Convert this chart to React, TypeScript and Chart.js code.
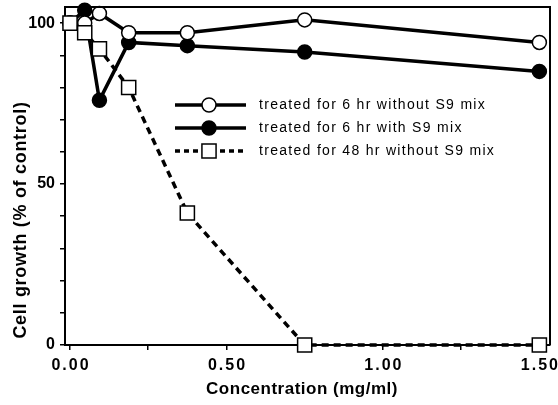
import React, { useEffect, useRef } from "react";
import { Chart, registerables } from "chart.js";
Chart.register(...registerables);

const concentrations = [0, 0.047, 0.094, 0.1875, 0.375, 0.75, 1.5];
const without6 = [100, 100, 103, 97, 97, 101, 94];
const with6 = [100, 104, 76, 94, 93, 91, 85];
const without48 = [100, 97, 92, 80, 41, 0, 0];
const seriesLabels = [
  "treated for 6 hr without S9 mix",
  "treated for 6 hr with S9 mix",
  "treated for 48 hr without S9 mix",
];
const xMajorTicks = [0, 0.5, 1, 1.5];
const xTickLabels = ["0.00", "0.50", "1.00", "1.50"];
const yMajorTicks = [0, 50, 100];
const yTickLabels = ["0", "50", "100"];
const xTitle = "Concentration (mg/ml)";
const yTitle = "Cell growth (% of control)";

const FONT = "'Liberation Sans', Arial, sans-serif";

const framePlugin = {
  id: "frame",
  afterDatasetsDraw(chart: any) {
    const { ctx, chartArea: a } = chart;
    ctx.save();
    ctx.strokeStyle = "#000";
    ctx.lineWidth = 2;
    ctx.beginPath();
    ctx.moveTo(a.left, a.top);
    ctx.lineTo(a.right, a.top);
    ctx.lineTo(a.right, a.bottom);
    ctx.stroke();
    ctx.restore();
  },
};

const xLabelsPlugin = {
  id: "xLabels",
  afterDraw(chart: any) {
    const { ctx } = chart;
    const sx = chart.scales.x;
    ctx.save();
    ctx.fillStyle = "#000";
    ctx.font = `bold 16px ${FONT}`;
    (ctx as any).letterSpacing = "2px";
    ctx.textAlign = "center";
    ctx.textBaseline = "middle";
    xMajorTicks.forEach((v, i) => {
      ctx.fillText(xTickLabels[i], sx.getPixelForValue(v) + 1, 366);
    });
    (ctx as any).letterSpacing = "0px";
    ctx.restore();
  },
};

const titlesPlugin = {
  id: "titles",
  afterDraw(chart: any) {
    const { ctx } = chart;
    ctx.save();
    ctx.fillStyle = "#000";
    ctx.textAlign = "center";
    ctx.textBaseline = "middle";
    ctx.font = `bold 17px ${FONT}`;
    (ctx as any).letterSpacing = "0.5px";
    ctx.fillText(xTitle, 302, 389);
    ctx.font = `bold 18px ${FONT}`;
    (ctx as any).letterSpacing = "0.7px";
    ctx.translate(21, 220);
    ctx.rotate(-Math.PI / 2);
    ctx.fillText(yTitle, 0, 0);
    (ctx as any).letterSpacing = "0px";
    ctx.restore();
  },
};

const legendPlugin = {
  id: "customLegend",
  afterDraw(chart: any) {
    const { ctx } = chart;
    const x0 = 175, x1 = 246, xm = 209, tx = 259;
    const rows = [105, 128, 151];
    ctx.save();
    chart.data.datasets.forEach((ds: any, i: number) => {
      const y = rows[i];
      ctx.strokeStyle = "#000";
      ctx.lineWidth = ds.borderWidth;
      ctx.setLineDash(ds.borderDash ? [5, 4] : []);
      ctx.beginPath();
      ctx.moveTo(x0, y);
      ctx.lineTo(x1, y);
      ctx.stroke();
      ctx.setLineDash([]);
      ctx.lineWidth = 1.5;
      ctx.fillStyle = ds.pointBackgroundColor;
      ctx.beginPath();
      if (ds.pointStyle === "rect") {
        const s = ds.pointRadius * Math.SQRT1_2;
        ctx.rect(xm - s, y - s, 2 * s, 2 * s);
      } else {
        ctx.arc(xm, y, ds.pointRadius, 0, Math.PI * 2);
      }
      ctx.fill();
      ctx.stroke();
      ctx.fillStyle = "#000";
      ctx.font = `14px ${FONT}`;
      (ctx as any).letterSpacing = "1.3px";
      ctx.textBaseline = "middle";
      ctx.textAlign = "left";
      ctx.fillText(seriesLabels[i], tx, y);
      (ctx as any).letterSpacing = "0px";
    });
    ctx.restore();
  },
};

export default function App() {
  const ref = useRef<HTMLCanvasElement>(null);
  useEffect(() => {
    document.body.style.margin = "0";
    const mk = (vals: number[]) => concentrations.map((x, i) => ({ x, y: vals[i] }));
    const common = {
      borderColor: "#000",
      borderWidth: 3.5,
      pointBorderColor: "#000",
      pointBorderWidth: 1.5,
      clip: false,
    };
    const chart = new Chart(ref.current!, {
      type: "line",
      data: {
        datasets: [
          { ...common, label: seriesLabels[0], data: mk(without6), pointStyle: "circle", pointRadius: 7, pointBackgroundColor: "#fff", order: 2 } as any,
          { ...common, label: seriesLabels[1], data: mk(with6), pointStyle: "circle", pointRadius: 7, pointBackgroundColor: "#000", order: 3 } as any,
          { ...common, label: seriesLabels[2], data: mk(without48), borderDash: [7, 5], pointStyle: "rect", pointRadius: 10, pointBackgroundColor: "#fff", order: 1 } as any,
        ],
      },
      options: {
        animation: false,
        responsive: false,
        events: [],
        layout: { autoPadding: false, padding: { top: 7, right: 8, left: 0, bottom: 0 } },
        plugins: { legend: { display: false }, tooltip: { enabled: false } },
        scales: {
          x: {
            type: "linear",
            min: -0.016,
            max: 1.534,
            afterFit: (s: any) => { s.height = 60; s.paddingLeft = 0; s.paddingRight = 0; },
            afterBuildTicks: (s: any) => {
              const t = [];
              for (let v = 0; v <= 1.5001; v += 0.25) t.push({ value: v });
              s.ticks = t;
            },
            ticks: { display: false, autoSkip: false, maxRotation: 0 },
            grid: { display: true, drawOnChartArea: false, drawTicks: true, tickLength: 5, color: "#000", lineWidth: 1.5 },
            border: { display: true, color: "#000", width: 2 },
            title: { display: false },
          },
          y: {
            type: "linear",
            min: 0,
            max: 105,
            afterFit: (s: any) => { s.width = 65; s.paddingTop = 0; s.paddingBottom = 0; },
            afterBuildTicks: (s: any) => {
              const t = [];
              for (let v = 0; v <= 100; v += 10) t.push({ value: v });
              s.ticks = t;
            },
            ticks: {
              autoSkip: false,
              padding: 5,
              color: "#000",
              font: { family: FONT, size: 16, weight: "bold" },
              callback: (v: any) => {
                const i = yMajorTicks.findIndex((m) => Math.abs(m - v) < 1e-6);
                return i >= 0 ? yTickLabels[i] : "";
              },
            },
            grid: { display: true, drawOnChartArea: false, drawTicks: true, tickLength: 5, color: "#000", lineWidth: 1.5 },
            border: { display: true, color: "#000", width: 2 },
            title: { display: false },
          },
        },
      },
      plugins: [framePlugin, xLabelsPlugin, titlesPlugin, legendPlugin],
    } as any);
    return () => chart.destroy();
  }, []);
  return (
    <div style={{ position: "absolute", left: 0, top: 0, width: 558, height: 405, background: "#fff" }}>
      <canvas ref={ref} width={558} height={405} style={{ display: "block" }} />
    </div>
  );
}
